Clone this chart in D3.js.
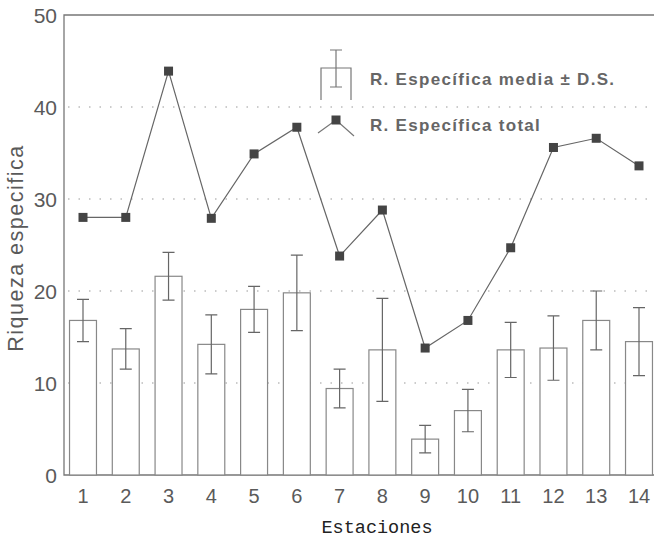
<!DOCTYPE html>
<html>
<head>
<meta charset="utf-8">
<script src="https://cdn.jsdelivr.net/npm/d3@7"></script>
<style>
  body { margin: 0; background: #fff; }
  svg { display: block; }
</style>
</head>
<body>
<svg id="chart" width="654" height="540"></svg>
<script>
// data
const estaciones = ['1', '2', '3', '4', '5', '6', '7', '8', '9', '10', '11', '12', '13', '14'];
const media = [16.8, 13.7, 21.6, 14.2, 18.0, 19.8, 9.4, 13.6, 3.9, 7.0, 13.6, 13.8, 16.8, 14.5];
const desv = [2.3, 2.2, 2.6, 3.2, 2.5, 4.1, 2.1, 5.6, 1.5, 2.3, 3.0, 3.5, 3.2, 3.7];
const total = [28.0, 28.0, 43.9, 27.9, 34.9, 37.8, 23.8, 28.8, 13.8, 16.8, 24.7, 35.6, 36.6, 33.6];
const yTicks = [0, 10, 20, 30, 40, 50];
const gridTicks = [10, 20, 30, 40];

const svg = d3.select('#chart');
const plot = {left: 64, right: 654, top: 15, bottom: 475};
const ink = '#5a5a5a';

const x = d3.scalePoint().domain(estaciones).range([83, 639]);
const y = d3.scaleLinear().domain([0, 50]).range([plot.bottom, plot.top]);
const barW = x.step() * 0.63;

// dotted grid
svg.append('g')
  .selectAll('line')
  .data(gridTicks)
  .enter().append('line')
    .attr('x1', plot.left + 4).attr('x2', plot.right)
    .attr('y1', d => y(d)).attr('y2', d => y(d))
    .attr('stroke', '#999')
    .attr('stroke-width', 1.2)
    .attr('stroke-dasharray', '1.5,9');

// frame: left, top, bottom
svg.append('path')
  .attr('d', `M${plot.right},${plot.top}H${plot.left}V${plot.bottom}H${plot.right}`)
  .attr('fill', 'none')
  .attr('stroke', '#777')
  .attr('stroke-width', 1.3);

// bars
svg.append('g')
  .selectAll('rect')
  .data(media)
  .enter().append('rect')
    .attr('x', (d, i) => x(estaciones[i]) - barW / 2)
    .attr('y', d => y(d))
    .attr('width', barW)
    .attr('height', d => plot.bottom - y(d))
    .attr('fill', '#fff')
    .attr('stroke', '#888')
    .attr('stroke-width', 1.2);

// error bars
const err = svg.append('g').attr('stroke', '#666').attr('stroke-width', 1.2).attr('fill', 'none');
err.selectAll('path')
  .data(media)
  .enter().append('path')
    .attr('d', (d, i) => {
      const cx = x(estaciones[i]), hi = y(d + desv[i]), lo = y(d - desv[i]), c = 6;
      return `M${cx - c},${hi}H${cx + c}M${cx},${hi}V${lo}M${cx - c},${lo}H${cx + c}`;
    });

// total line
const line = d3.line()
  .x((d, i) => x(estaciones[i]))
  .y(d => y(d));
svg.append('path')
  .datum(total)
  .attr('d', line)
  .attr('fill', 'none')
  .attr('stroke', '#666')
  .attr('stroke-width', 1.2);

svg.append('g')
  .selectAll('rect')
  .data(total)
  .enter().append('rect')
    .attr('x', (d, i) => x(estaciones[i]) - 4.5)
    .attr('y', d => y(d) - 4.5)
    .attr('width', 9)
    .attr('height', 9)
    .attr('fill', '#444');

// y tick labels
svg.append('g')
  .selectAll('text')
  .data(yTicks)
  .enter().append('text')
    .attr('x', 57)
    .attr('y', d => y(d))
    .attr('dy', '0.36em')
    .attr('text-anchor', 'end')
    .attr('font-family', 'Liberation Sans, Arial, sans-serif')
    .attr('font-size', 21)
    .attr('fill', ink)
    .text(d => d);

// x tick labels
svg.append('g')
  .selectAll('text')
  .data(estaciones)
  .enter().append('text')
    .attr('x', d => x(d))
    .attr('y', 503)
    .attr('text-anchor', 'middle')
    .attr('font-family', 'Liberation Sans, Arial, sans-serif')
    .attr('font-size', 20)
    .attr('fill', ink)
    .text(d => d);

// axis titles
svg.append('text')
  .attr('transform', 'translate(23,248) rotate(-90)')
  .attr('text-anchor', 'middle')
  .attr('font-family', 'Liberation Sans, Arial, sans-serif')
  .attr('font-size', 21.5)
  .attr('letter-spacing', 1.5)
  .attr('fill', ink)
  .text('Riqueza especifica');

svg.append('text')
  .attr('x', 377)
  .attr('y', 533)
  .attr('text-anchor', 'middle')
  .attr('font-family', 'Liberation Mono, Courier New, monospace')
  .attr('font-size', 18.5)
  .attr('fill', '#222')
  .text('Estaciones');

// legend
const lg = svg.append('g').attr('stroke', '#777').attr('stroke-width', 1.2).attr('fill', 'none');
lg.append('path').attr('d', 'M321,100V68H351V100');
lg.append('path').attr('d', 'M330,50H342M336,50V87M330,87H342');
lg.append('path').attr('d', 'M318,133L336,120L354,136');
svg.append('rect').attr('x', 331.5).attr('y', 115.5).attr('width', 9).attr('height', 9).attr('fill', '#444');

svg.append('text')
  .attr('x', 370).attr('y', 85)
  .attr('font-family', 'Liberation Sans, Arial, sans-serif')
  .attr('font-size', 17)
  .attr('font-weight', 'bold')
  .attr('letter-spacing', 1.3)
  .attr('fill', '#666')
  .text('R. Específica media  \u00B1 D.S.');
svg.append('text')
  .attr('x', 370).attr('y', 131)
  .attr('font-family', 'Liberation Sans, Arial, sans-serif')
  .attr('font-size', 17)
  .attr('font-weight', 'bold')
  .attr('letter-spacing', 1.3)
  .attr('fill', '#666')
  .text('R. Específica total');
</script>
</body>
</html>
